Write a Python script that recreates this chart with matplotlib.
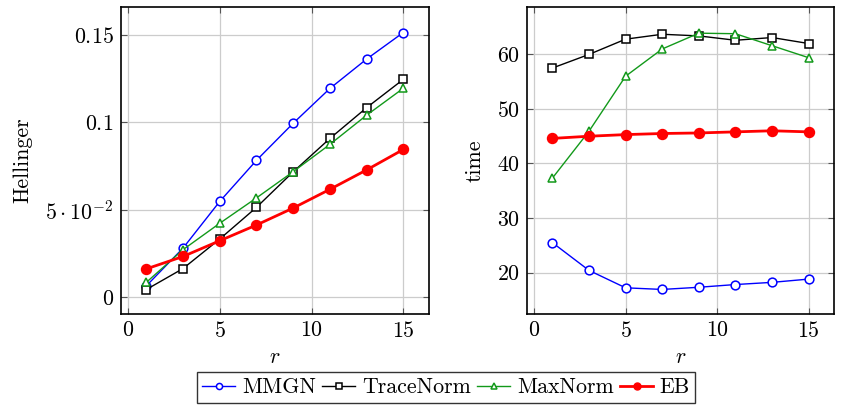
import matplotlib
matplotlib.use("Agg")
import matplotlib.pyplot as plt
from matplotlib.lines import Line2D

plt.rcParams['font.family'] = 'serif'
plt.rcParams['font.serif'] = ['cmr10', 'DejaVu Serif']
plt.rcParams['mathtext.fontset'] = 'cm'
plt.rcParams['axes.formatter.use_mathtext'] = True

r = [1, 3, 5, 7, 9, 11, 13, 15]

hell_mmgn = [0.0065, 0.0281, 0.0548, 0.0783, 0.0995, 0.1194, 0.1362, 0.1514]
hell_trace = [0.0044, 0.0164, 0.0333, 0.0514, 0.0717, 0.0908, 0.1084, 0.1246]
hell_max = [0.0085, 0.0272, 0.0423, 0.0568, 0.0718, 0.0874, 0.1041, 0.1195]
hell_eb = [0.0162, 0.0233, 0.0323, 0.0413, 0.0510, 0.0617, 0.0728, 0.0845]

time_mmgn = [25.5, 20.4, 17.2, 16.9, 17.3, 17.8, 18.2, 18.8]
time_trace = [57.5, 60.0, 62.8, 63.7, 63.4, 62.6, 63.1, 62.0]
time_max = [37.3, 45.9, 56.0, 61.0, 63.9, 63.8, 61.6, 59.4]
time_eb = [44.6, 45.0, 45.3, 45.5, 45.6, 45.8, 46.0, 45.8]

names = ['MMGN', 'TraceNorm', 'MaxNorm', 'EB']

x_ticks = [0, 5, 10, 15]
hell_ticks = [0, 0.05, 0.1, 0.15]
hell_ticklabels = ['$0$', r'$5\cdot10^{-2}$', '$0.1$', '$0.15$']
time_ticks = [20, 30, 40, 50, 60]

GREEN = '#12991a'
styles = [
    dict(color='blue', marker='o', markersize=6.3, markerfacecolor='white',
         markeredgecolor='blue', markeredgewidth=1.1, linewidth=1.0),
    dict(color='black', marker='s', markersize=5.8, markerfacecolor='white',
         markeredgecolor='black', markeredgewidth=1.1, linewidth=1.0),
    dict(color=GREEN, marker='^', markersize=6.0, markerfacecolor='white',
         markeredgecolor=GREEN, markeredgewidth=1.1, linewidth=1.0),
    dict(color='red', marker='o', markersize=7.2, markerfacecolor='red',
         markeredgecolor='red', linewidth=2.0),
]

fig = plt.figure(figsize=(8.42, 4.12), dpi=100)
ax1 = fig.add_axes([0.1433, 0.2379, 0.3662, 0.7451])
ax2 = fig.add_axes([0.6255, 0.2379, 0.3654, 0.7451])

FS = 15.8

def style_axis(ax):
    ax.grid(True, color='#cccccc', linewidth=0.9)
    ax.set_axisbelow(True)
    ax.tick_params(direction='in', length=4.5, width=0.8, color='#555555',
                   top=True, right=True, labelsize=FS, pad=5)
    for s in ax.spines.values():
        s.set_linewidth(1.2)
        s.set_color('black')
    ax.set_xlim(-0.4, 16.4)
    ax.set_xticks(x_ticks)
    ax.set_xticklabels([f'${t}$' for t in x_ticks])
    ax.set_xlabel('$r$', fontsize=FS, labelpad=5)

for vals, st in zip([hell_mmgn, hell_trace, hell_max, hell_eb], styles):
    ax1.plot(r, vals, **st)
style_axis(ax1)
ax1.set_ylim(-0.0096, 0.166)
ax1.set_yticks(hell_ticks)
ax1.set_yticklabels(hell_ticklabels)
ax1.set_ylabel('Hellinger', fontsize=FS, labelpad=9)

for vals, st in zip([time_mmgn, time_trace, time_max, time_eb], styles):
    ax2.plot(r, vals, **st)
style_axis(ax2)
ax2.set_ylim(12.4, 68.7)
ax2.set_yticks(time_ticks)
ax2.set_yticklabels([f'${t}$' for t in time_ticks])
ax2.set_ylabel('time', fontsize=FS, labelpad=9)

handles = [Line2D([0], [0], **st) for st in styles]
for h, st in zip(handles, styles):
    h.set_markersize(st['markersize'] * 0.7)
leg = fig.legend(handles, names, loc='center', bbox_to_anchor=(0.5298, 0.0595),
                 ncol=4, fontsize=FS, frameon=True, fancybox=False,
                 handlelength=1.5, handletextpad=0.3, columnspacing=0.3,
                 borderpad=0.25, borderaxespad=0)
leg.get_frame().set_edgecolor('black')
leg.get_frame().set_linewidth(1.0)

fig.savefig('out.png', dpi=100)
